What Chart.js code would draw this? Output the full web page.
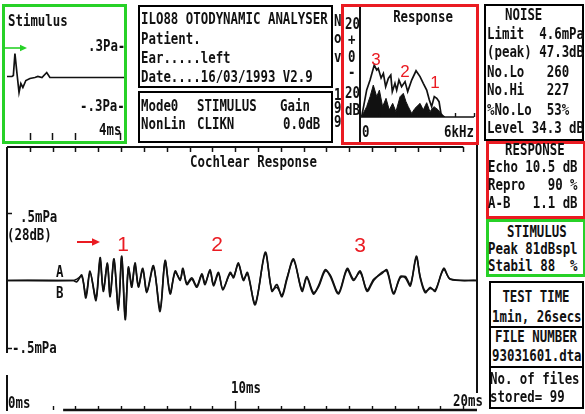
<!DOCTYPE html>
<html>
<head>
<meta charset="utf-8">
<script src="https://cdn.jsdelivr.net/npm/chart.js@4.4.1/dist/chart.umd.min.js"></script>
<style>
  body { margin: 0; background: #fff; }
  #page { position: relative; width: 585px; height: 414px; overflow: hidden; background: #fff; }
  canvas { position: absolute; }
  .box { position: absolute; box-sizing: border-box; border: 2px solid #000; }
  .g { border: 3px solid #27d127; }
  .r { border: 3px solid #ea1b22; }
  .sep { position: absolute; height: 2px; background: #000; }
  .t { position: absolute; font-family: 'DejaVu Sans Mono', monospace; font-weight: bold;
       font-size: 15.5px; line-height: 15px; white-space: pre; color: #111;
       transform: scaleX(0.8); transform-origin: 0 0; }
  .t.c { transform: translateX(-40%) scaleX(0.8); }
  .n { position: absolute; font-family: 'Liberation Sans', Arial, sans-serif; color: #ea1b22;
       line-height: 1; transform: translate(-50%, -50%); }
</style>
</head>
<body>
<div id="page">
  <canvas id="stim" width="130" height="146" style="left:0;top:0;width:130px;height:146px"></canvas>
  <canvas id="spec" width="150" height="146" style="left:330px;top:0;width:150px;height:146px"></canvas>
  <canvas id="main" width="484" height="274" style="left:0;top:140px;width:484px;height:274px"></canvas>

  <!-- panel frames -->
  <div class="box g" style="left:2px;top:4px;width:125px;height:140px"></div>
  <div class="box" style="left:138px;top:5px;width:195px;height:83px"></div>
  <div class="box" style="left:138px;top:91px;width:195px;height:52px"></div>
  <div class="box r" style="left:341px;top:4px;width:138px;height:141px"></div>
  <div class="box" style="left:484px;top:4px;width:100px;height:137px"></div>
  <div class="box r" style="left:486px;top:141px;width:100px;height:78px"></div>
  <div class="box g" style="left:486px;top:219px;width:100px;height:58px"></div>
  <div class="box" style="left:489px;top:281px;width:95px;height:128px"></div>
  <div class="sep" style="left:489px;top:326px;width:95px"></div>
  <div class="sep" style="left:489px;top:366px;width:95px"></div>

  <!-- stimulus panel text -->
  <div class="t" style="left:8px;top:14px">Stimulus</div>
  <div class="t" style="left:88px;top:39px">.3Pa-</div>
  <div class="t" style="left:80px;top:99px">-.3Pa-</div>
  <div class="t" style="left:99px;top:123px">4ms</div>

  <!-- header -->
  <div class="t" style="left:141px;top:12px">ILO88 OTODYNAMIC ANALYSER</div>
  <div class="t" style="left:141px;top:32px">Patient.</div>
  <div class="t" style="left:141px;top:51px">Ear.....left</div>
  <div class="t" style="left:141px;top:70px">Date....16/03/1993 V2.9</div>
  <div class="t" style="left:141px;top:99px">Mode0</div>
  <div class="t" style="left:197px;top:99px">STIMULUS</div>
  <div class="t" style="left:280px;top:99px">Gain</div>
  <div class="t" style="left:141px;top:117px">NonLin</div>
  <div class="t" style="left:197px;top:117px">CLIKN</div>
  <div class="t" style="left:283px;top:117px">0.0dB</div>

  <div class="t" style="left:334px;top:14px">N</div>
  <div class="t" style="left:334px;top:31px">o</div>
  <div class="t" style="left:334px;top:50px">v</div>
  <div class="t" style="left:334px;top:88px">1</div>
  <div class="t" style="left:334px;top:101px">9</div>
  <div class="t" style="left:334px;top:115px">9</div>

  <!-- spectrum panel text -->
  <div class="t c" style="left:423px;top:10px">Response</div>
  <div class="t" style="left:345px;top:17px">20</div>
  <div class="t" style="left:348px;top:33px">+</div>
  <div class="t" style="left:348px;top:50px">0</div>
  <div class="t" style="left:348px;top:65px">-</div>
  <div class="t" style="left:345px;top:86px">20</div>
  <div class="t" style="left:345px;top:103px">dB</div>
  <div class="t" style="left:362px;top:125px">0</div>
  <div class="t" style="left:444px;top:125px">6kHz</div>

  <!-- cochlear response panel text -->
  <div class="t" style="left:190px;top:155px">Cochlear Response</div>
  <div class="t" style="left:20px;top:210px">.5mPa</div>
  <div class="t" style="left:7px;top:228px">(28dB)</div>
  <div class="t" style="left:12px;top:341px">-.5mPa</div>
  <div class="t" style="left:56px;top:265px">A</div>
  <div class="t" style="left:56px;top:286px">B</div>
  <div class="t" style="left:231px;top:381px">10ms</div>
  <div class="t" style="left:8px;top:396px">0ms</div>
  <div class="t" style="left:453px;top:394px">20ms</div>

  <!-- right column -->
  <div class="t" style="left:505px;top:8px">NOISE</div>
  <div class="t" style="left:487px;top:27px">Limit  4.6mPa</div>
  <div class="t" style="left:487px;top:45px">(peak) 47.3dB</div>
  <div class="t" style="left:487px;top:65px">No.Lo   260</div>
  <div class="t" style="left:487px;top:83px">No.Hi   227</div>
  <div class="t" style="left:487px;top:103px">%No.Lo  53%</div>
  <div class="t" style="left:487px;top:121px">Level 34.3 dB</div>

  <div class="t" style="left:505px;top:143px">RESPONSE</div>
  <div class="t" style="left:488px;top:160px">Echo 10.5 dB</div>
  <div class="t" style="left:488px;top:178px">Repro   90 %</div>
  <div class="t" style="left:488px;top:196px">A-B   1.1 dB</div>

  <div class="t" style="left:507px;top:225px">STIMULUS</div>
  <div class="t" style="left:488px;top:242px">Peak 81dBspl</div>
  <div class="t" style="left:488px;top:259px">Stabil 88  %</div>

  <div class="t c" style="left:536px;top:290px">TEST TIME</div>
  <div class="t" style="left:492px;top:310px">1min, 26secs</div>
  <div class="t c" style="left:536px;top:330px">FILE NUMBER</div>
  <div class="t" style="left:492px;top:349px">93031601.dta</div>
  <div class="t" style="left:490px;top:372px">No. of files</div>
  <div class="t" style="left:490px;top:390px">stored= 99</div>

  <!-- highlighted echo components -->
  <div class="n" style="left:376px;top:59px;font-size:17px">3</div>
  <div class="n" style="left:405px;top:71px;font-size:17px">2</div>
  <div class="n" style="left:435px;top:82px;font-size:17px">1</div>
  <div class="n" style="left:123px;top:243px;font-size:21px">1</div>
  <div class="n" style="left:217px;top:243px;font-size:21px">2</div>
  <div class="n" style="left:360px;top:244px;font-size:21px">3</div>

  <svg width="585" height="414" style="position:absolute;left:0;top:0;pointer-events:none">
    <line x1="5" y1="48" x2="22" y2="48" stroke="#27d127" stroke-width="1.6"/>
    <polygon points="27,48 20,44.8 20,51.2" fill="#27d127"/>
    <line x1="77" y1="242" x2="93" y2="242" stroke="#ea1b22" stroke-width="2"/>
    <polygon points="100,242 92,238.3 92,245.7" fill="#ea1b22"/>
  </svg>
</div>

<script>
// Click stimulus (time in ms, pressure in Pa)
const stimMs = [0, 0.22, 0.28, 0.35, 0.44, 0.53, 0.61, 0.70, 0.83, 1.01, 1.23, 1.36, 1.54, 1.75, 1.89, 5.2];
const stimPa = [0, 0, 0.01, 0.23, 0.03, -0.16, -0.07, -0.11, -0.04, -0.02, -0.01, 0.00, -0.01, 0.04, -0.01, -0.01];
const stimTickMs = [1, 2, 3, 5];

// Response spectrum (kHz, dB) - echo line and noise floor
const responseKHz = [0.09, 0.35, 0.53, 0.75, 0.88, 0.96, 1.11, 1.23, 1.35, 1.49, 1.62, 1.70, 1.84, 1.93, 2.05,
                     2.19, 2.37, 2.51, 2.72, 2.95, 3.16, 3.33, 3.51, 3.65, 3.77, 3.91, 4.04, 4.16, 4.26, 4.38];
const responseDb  = [-34.0, -18.6, -12.8, -4.1, -7.0, -6.0, -11.6, -8.9, -16.6, -11.8, -9.9, -19.5, -14.7, -18.6, -12.8,
                     -16.6, -13.7, -19.5, -12.8, -7.4, -10.8, -14.7, -18.6, -24.3, -28.2, -22.4, -23.4, -25.3, -32.1, -34.0];
const noiseKHz = [0.09, 0.35, 0.53, 0.70, 0.88, 1.02, 1.19, 1.37, 1.54, 1.72, 1.89, 2.11, 2.28, 2.42, 2.54,
                  2.72, 2.89, 3.16, 3.33, 3.51, 3.68, 3.89, 4.12, 4.30, 4.47];
const noiseDb  = [-34.0, -28.2, -22.4, -15.7, -22.4, -18.6, -28.2, -23.4, -30.1, -26.3, -31.1, -22.4, -20.5, -25.3, -28.2,
                  -32.1, -29.2, -26.3, -30.1, -25.9, -31.1, -28.2, -30.1, -33.0, -34.0];
const specTickKHz = [1, 2, 3, 4, 5, 6];

// Cochlear response, buffers A and B (time in ms, pressure in mPa)
const respMs = [
  0, 2.9, 3.06, 3.28, 3.46, 3.64, 3.90, 4.08, 4.22, 4.40,
  4.52, 4.69, 4.88, 5.03, 5.18, 5.32, 5.47, 5.61, 5.76, 5.95,
  6.13, 6.42, 6.71, 6.93, 7.15, 7.37, 7.59, 7.71, 7.88, 8.10,
  8.32, 8.54, 8.68, 8.90, 9.05, 9.27, 9.46, 9.78, 9.93, 10.14,
  10.36, 10.54, 10.88, 11.32, 11.61, 11.83, 12.05, 12.27, 12.56, 12.93,
  13.14, 13.43, 13.65, 13.95, 14.17, 14.53, 14.91, 15.19, 15.48, 15.78,
  16.07, 16.43, 16.65, 16.94, 17.24, 17.46, 17.68, 17.94, 18.11, 18.33,
  18.55, 18.77, 19.14, 19.43, 20.6];
const traceA = [
  0, 0, -0.01, 0.04, -0.13, 0.06, -0.13, 0.17, -0.08, 0.12,
  -0.12, 0.16, -0.20, 0.18, -0.29, 0.09, -0.05, 0.13, -0.04, 0.09,
  -0.08, 0.11, -0.23, 0.14, -0.10, 0.07, 0.00, 0.09, -0.03, 0.01,
  -0.05, 0.04, -0.03, 0.08, -0.03, 0.06, -0.07, 0.06, 0.02, 0.13,
  0.00, 0.06, -0.18, 0.21, -0.08, -0.03, -0.12, 0.01, 0.16, -0.08,
  0.02, -0.10, -0.04, 0.08, 0.03, -0.10, 0.08, 0.00, 0.07, -0.08,
  0.00, 0.06, 0.07, -0.10, 0.03, 0.02, -0.04, 0.18, 0.02, -0.09,
  -0.05, -0.08, 0.09, 0.01, 0];
const traceB = [
  0, 0, 0.01, 0.03, -0.11, 0.07, -0.15, 0.15, -0.07, 0.13,
  -0.11, 0.15, -0.22, 0.17, -0.27, 0.10, -0.03, 0.12, -0.05, 0.08,
  -0.09, 0.10, -0.21, 0.15, -0.09, 0.06, 0.01, 0.08, -0.02, 0.02,
  -0.04, 0.05, -0.02, 0.07, -0.04, 0.05, -0.06, 0.05, 0.03, 0.12,
  0.01, 0.05, -0.17, 0.20, -0.07, -0.05, -0.11, 0.02, 0.15, -0.07,
  0.03, -0.09, -0.05, 0.07, 0.04, -0.09, 0.09, 0.01, 0.06, -0.07,
  0.01, 0.05, 0.08, -0.09, 0.02, 0.03, -0.03, 0.17, 0.03, -0.08,
  -0.06, -0.07, 0.08, 0.01, 0];
const mainTickMs = [1, 2, 3, 4, 5, 6, 7, 8, 9, 10, 11, 12, 13, 14, 15, 16, 17, 18, 19, 20];
const levelMarks = [0.5, -0.5];

const pts = (xs, ys) => xs.map((x, i) => ({ x, y: ys[i] }));
const INK = '#111';

function seg(ctx, x1, y1, x2, y2) {
  ctx.beginPath(); ctx.moveTo(x1, y1); ctx.lineTo(x2, y2); ctx.stroke();
}

const baseOpts = (xMin, xMax, yMin, yMax, pad) => ({
  responsive: false, animation: false, devicePixelRatio: 1,
  layout: { padding: pad },
  plugins: { legend: { display: false }, tooltip: { enabled: false } },
  scales: {
    x: { type: 'linear', min: xMin, max: xMax, display: false },
    y: { type: 'linear', min: yMin, max: yMax, display: false }
  }
});

// Stimulus waveform
new Chart(document.getElementById('stim'), {
  type: 'line',
  data: { datasets: [{ data: pts(stimMs, stimPa), borderColor: INK, borderWidth: 1.7,
                       pointRadius: 0, tension: 0, fill: false }] },
  options: baseOpts(0, 5.2, -0.635, 0.705, { left: 7, right: 5, top: 6, bottom: 6 }),
  plugins: [{
    id: 'stimTicks',
    afterDraw(chart) {
      const { ctx, chartArea: a, scales: { x } } = chart;
      ctx.save(); ctx.strokeStyle = INK; ctx.lineWidth = 1.5;
      stimTickMs.forEach(t => { const px = Math.round(x.getPixelForValue(t)) + 0.5; seg(ctx, px, a.bottom, px, a.bottom - 7); });
      ctx.restore();
    }
  }]
});

// Response spectrum
new Chart(document.getElementById('spec'), {
  type: 'line',
  data: { datasets: [
    { data: pts(noiseKHz, noiseDb), borderColor: INK, backgroundColor: INK, borderWidth: 1,
      pointRadius: 0, tension: 0, fill: 'start' },
    { data: pts(responseKHz, responseDb), borderColor: INK, borderWidth: 1.7,
      pointRadius: 0, tension: 0, fill: false }
  ] },
  options: baseOpts(0, 6, -34.2, 23.2, { left: 30, right: 6, top: 18, bottom: 29 }),
  plugins: [{
    id: 'specFrame',
    afterDraw(chart) {
      const { ctx, chartArea: a, scales: { x } } = chart;
      ctx.save(); ctx.strokeStyle = INK;
      ctx.lineWidth = 2; seg(ctx, a.left, 4, a.left, 144);
      ctx.lineWidth = 1.6; seg(ctx, a.left, a.bottom, a.right, a.bottom);
      ctx.lineWidth = 1.4;
      specTickKHz.forEach(k => { const px = Math.round(x.getPixelForValue(k)) + 0.5; seg(ctx, px, a.bottom, px, a.bottom - 4); });
      ctx.restore();
    }
  }]
});

// Cochlear response, buffers A and B
new Chart(document.getElementById('main'), {
  type: 'line',
  data: { datasets: [
    { data: pts(respMs, traceA), borderColor: INK, borderWidth: 1.7, pointRadius: 0, tension: 0.3, fill: false },
    { data: pts(respMs, traceB), borderColor: INK, borderWidth: 1.5, pointRadius: 0, tension: 0.3, fill: false }
  ] },
  options: baseOpts(0, 20.6, -0.967, 0.989, { left: 7, right: 7, top: 7, bottom: 3 }),
  plugins: [{
    id: 'mainFrame',
    afterDraw(chart) {
      const { ctx, chartArea: a, scales: { x, y } } = chart;
      ctx.save(); ctx.strokeStyle = INK;
      const x20 = x.getPixelForValue(20);
      ctx.lineWidth = 2;
      seg(ctx, a.left, a.top, x20, a.top);
      seg(ctx, a.left, a.top, a.left, a.top + 206);
      seg(ctx, a.left, a.bottom - 36, a.left, a.bottom);
      seg(ctx, a.right, a.top - 2, a.right, a.bottom - 18);
      ctx.lineWidth = 1.5;
      mainTickMs.forEach(t => { const px = Math.round(x.getPixelForValue(t)) + 0.5; seg(ctx, px, a.top, px, a.top + 5); });
      levelMarks.forEach(v => { const py = Math.round(y.getPixelForValue(v)) + 0.5; seg(ctx, a.left, py, a.left + 5, py); });
      // time axis along the bottom
      ctx.lineWidth = 2.6;
      seg(ctx, x.getPixelForValue(2.46), a.bottom - 1, a.right, a.bottom - 1);
      ctx.lineWidth = 1.4;
      mainTickMs.filter(t => t >= 2).forEach(t => {
        const px = Math.round(x.getPixelForValue(t)) + 0.5;
        seg(ctx, px, a.bottom - 1, px, a.bottom - (t === 10 ? 10 : 5));
      });
      ctx.restore();
    }
  }]
});
</script>
</body>
</html>
